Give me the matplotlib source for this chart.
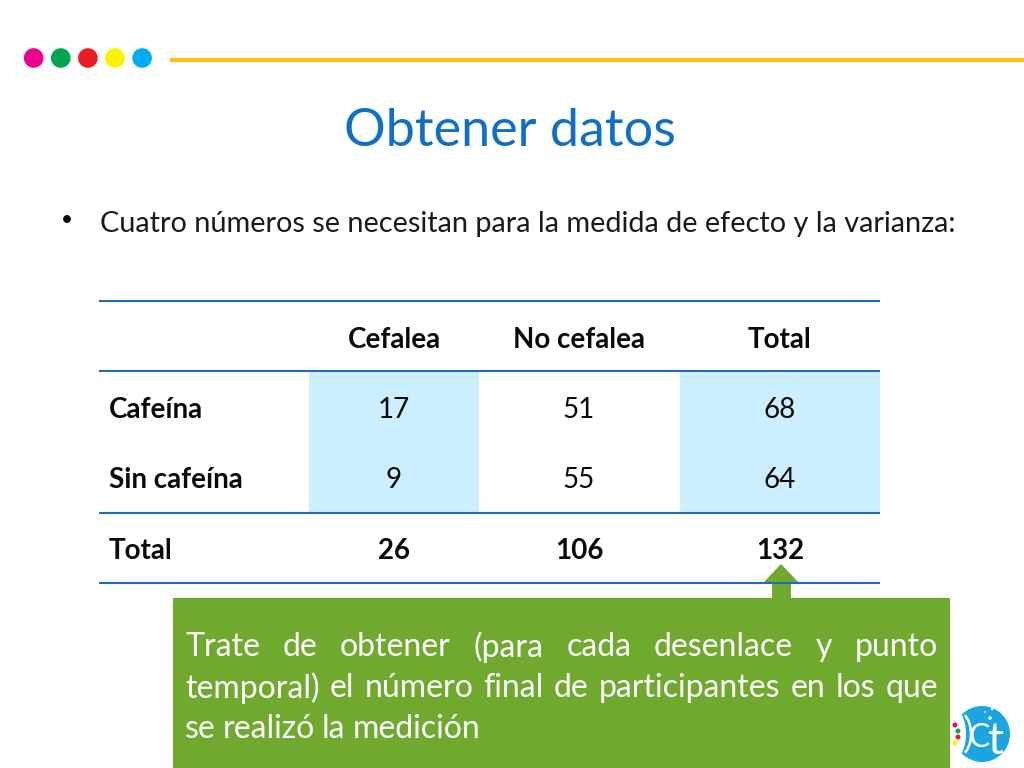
import matplotlib
matplotlib.use("Agg")
import matplotlib.pyplot as plt
from matplotlib.patches import Circle, Rectangle, Polygon, Arc, Ellipse

plt.rcParams['font.family'] = ['Lato', 'DejaVu Sans']

# datos de la tabla
columnas = ["Cefalea", "No cefalea", "Total"]
filas = ["Cafeína", "Sin cafeína", "Total"]
cefalea = [17, 9, 26]
no_cefalea = [51, 55, 106]
total = [68, 64, 132]

titulo = "Obtener datos"
vineta = "Cuatro números se necesitan para la medida de efecto y la varianza:"
lineas_caja = ["Trate de obtener (para cada desenlace y punto",
               "temporal) el número final de participantes en los que",
               "se realizó la medición"]
colores_puntos = ["#EC008C", "#00A651", "#ED1C24", "#FFF200", "#00AEEF"]

AZUL = "#0F6FC6"
LINEA = "#1F6DB5"
CELESTE = "#CCEFFF"
VERDE = "#6FAA2E"
NEGRO = "#0A0A0A"

fig = plt.figure(figsize=(10.24, 7.68), dpi=100)
ax = fig.add_axes([0, 0, 1, 1])
ax.set_xlim(0, 1024)
ax.set_ylim(768, 0)
ax.axis("off")

# encabezado
for i, c in enumerate(colores_puntos):
    ax.add_patch(Circle((33.7 + i * 27.1, 58), 9.8, color=c, lw=0))
ax.add_patch(Rectangle((170, 58), 854, 3.5, color="#FDBF14", lw=0))

ax.text(510, 132, titulo, color=AZUL, fontsize=37.5, ha="center", va="center")
ax.text(67, 220, "•", fontsize=15, ha="center", va="center", color=NEGRO)
ax.text(100, 224, vineta, fontsize=20.8, ha="left", va="center", color="#1A1A1A")

# tabla
x_col = [394, 579, 780]
y_fila = [408, 478, 549]
ax.add_patch(Rectangle((309, 372), 170, 141, color=CELESTE, lw=0))
ax.add_patch(Rectangle((680, 372), 200, 141, color=CELESTE, lw=0))
for y in [300.5, 371, 513, 583]:
    ax.plot([99, 880], [y, y], color=LINEA, lw=1.5, solid_capstyle="butt")

for x, c in zip(x_col, columnas):
    ax.text(x, 340, c, fontsize=20, fontweight="bold", ha="center", va="center", color=NEGRO)
for y, f in zip(y_fila, filas):
    ax.text(109, y + 2, f, fontsize=20, fontweight="bold", ha="left", va="center", color=NEGRO)
for j, serie in enumerate([cefalea, no_cefalea, total]):
    for i, v in enumerate(serie):
        peso = "bold" if i == 2 else "normal"
        ax.text(x_col[j], y_fila[i] + 2, str(v), fontsize=20, fontweight=peso,
                ha="center", va="center", color=NEGRO)

# logo (va antes de la caja verde, que lo tapa por la izquierda)
ax.add_patch(Circle((982, 734), 28, color="#1BA6E2", lw=0))
ax.add_patch(Ellipse((948, 734), 36, 60, color="white", lw=0))
ax.add_patch(Arc((958, 734), 26, 44, theta1=-70, theta2=70, color="white", lw=1.8))
for (px, py), c in zip([(955, 725), (958, 731), (958, 737), (955, 743)],
                       ["#EC008C", "#00A651", "#ED1C24", "#FFF200"]):
    ax.add_patch(Circle((px, py), 2.5, color=c, lw=0))
for (px, py, pr) in [(990, 718, 1.8), (992, 709, 1.3), (985, 712, 0.9)]:
    ax.add_patch(Circle((px, py), pr, color="white", lw=0))
ax.text(979, 738, "C", fontsize=23, color="white", ha="center", va="center")
ax.text(996, 741, "t", fontsize=32, color="white", ha="center", va="center")

# flecha y caja verde
ax.add_patch(Polygon([(781, 564), (799, 583), (791, 583), (791, 600),
                      (772, 600), (772, 583), (763, 583)], color=VERDE, lw=0))
ax.add_patch(Rectangle((173, 598), 777, 170, color=VERDE, lw=0))

# texto justificado palabra por palabra
x_izq, x_der = 185, 938
y_lineas = [647, 688, 729]
r = fig.canvas.get_renderer()
for n, (linea, y) in enumerate(zip(lineas_caja, y_lineas)):
    palabras = linea.split(" ")
    textos = [ax.text(0, y, p, fontsize=23, color="white", ha="left", va="center") for p in palabras]
    anchos = [t.get_window_extent(r).width for t in textos]
    if n < 2:
        hueco = (x_der - x_izq - sum(anchos)) / (len(palabras) - 1)
    else:
        hueco = 7.0
    x = x_izq
    for t, a in zip(textos, anchos):
        t.set_x(x)
        x += a + hueco

fig.savefig("out.png", dpi=100)
